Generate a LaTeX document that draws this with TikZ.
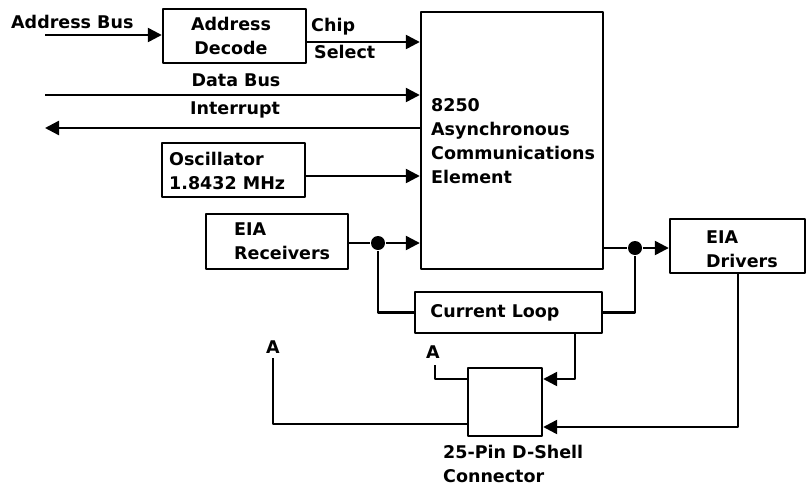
\documentclass[tikz,border=0pt]{standalone}
\usepackage{fontspec}
\setmainfont{DejaVu Sans}
\usetikzlibrary{arrows.meta}
\begin{document}
\begin{tikzpicture}[x=1pt,y=-1pt,
  line width=2.4pt, line join=round,
  lbl/.style={font=\fontsize{17.5}{24}\selectfont\bfseries, inner sep=0pt},
  box/.style={draw, rectangle, inner sep=0pt},
  arr/.style={-{Triangle[length=14pt,width=14pt]}},
  dot/.style={circle, fill, inner sep=0pt, minimum size=14pt}]
\useasboundingbox (0,0) rectangle (807,488);

% boxes
\node[box, minimum width=143pt, minimum height=54pt] (ad) at (234.5,36) {};
\node[lbl, align=center] (adt) at (231,36) {Address\\Decode};
\node[box, minimum width=182pt, minimum height=257pt] (ace) at (512,140.5) {};
\node[lbl, anchor=west, align=left] (acet) at (430,141) {8250\\Asynchronous\\Communications\\Element};
\node[box, minimum width=143pt, minimum height=54pt] (osc) at (233.5,170) {};
\node[lbl, anchor=west, align=left] (osct) at (168,170.5) {Oscillator\\1.8432 MHz};
\node[box, minimum width=142pt, minimum height=55pt] (rx) at (277,241.5) {};
\node[lbl, anchor=west, align=left] (rxt) at (233,241.5) {EIA\\Receivers};
\node[box, minimum width=135pt, minimum height=54pt] (tx) at (737.5,246) {};
\node[lbl, anchor=west, align=left] (txt) at (705,249.5) {EIA\\Drivers};
\node[box, minimum width=187pt, minimum height=41pt] (cl) at (508.5,312.5) {};
\node[lbl] (clt) at (495,313) {Current Loop};
\node[box, minimum width=74pt, minimum height=68pt] (conn) at (505,402) {};
\node[lbl, anchor=west, align=left] (connt) at (442,464) {25-Pin D-Shell\\Connector};

% free labels
\node[lbl, anchor=west] (abt) at (10,22) {Address Bus};
\node[lbl, anchor=west] (chip) at (310,27) {Chip};
\node[lbl, anchor=west] (sel) at (313,52) {Select};
\node[lbl] (dbt) at (236,80) {Data Bus};
\node[lbl] (irt) at (235,110) {Interrupt};

% coordinates
\coordinate (abin) at (45,35);
\coordinate (cs) at (0,42);
\coordinate (db) at (45,95);
\coordinate (ir) at (45,128);
\coordinate (oy) at (0,176);
\coordinate (ry) at (0,243);
\coordinate (ty) at (0,248);
\coordinate (c1) at (575,379);
\coordinate (c2) at (738,427);
\coordinate (c3) at (435,379);
\coordinate (a1) at (435,365);
\coordinate (c4) at (273,424);
\coordinate (a2) at (273,358);

% connectors
\draw[arr] (abin) -- (abin -| ad.west);
\draw[arr] (cs -| ad.east) -- (cs -| ace.west);
\draw[arr] (db) -- (db -| ace.west);
\draw[arr] (ir -| ace.west) -- (ir);
\draw[arr] (oy -| osc.east) -- (oy -| ace.west);

\node[dot] (j1) at (378,243) {};
\draw (ry -| rx.east) -- (j1);
\draw[arr] (j1) -- (ry -| ace.west);
\draw (j1) |- (cl.west);

\node[dot] (j2) at (635,248) {};
\draw (ty -| ace.east) -- (j2);
\draw[arr] (j2) -- (ty -| tx.west);
\draw (cl.east) -| (j2);

\draw[arr] (c1 |- cl.south) -- (c1) -- (c1 -| conn.east);
\draw[arr] (c2 |- tx.south) -- (c2) -- (c2 -| conn.east);

\draw (c3 -| conn.west) -- (c3) -- (a1);
\node[lbl] (la1) at (433,352) {A};
\draw (c4 -| conn.west) -- (c4) -- (a2);
\node[lbl] (la2) at (273,347) {A};
\end{tikzpicture}
\end{document}
